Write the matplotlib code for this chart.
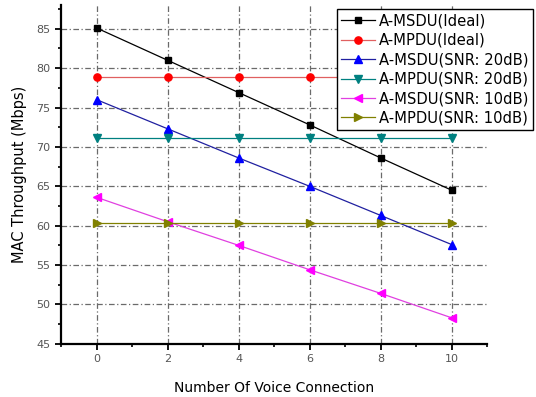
import matplotlib
matplotlib.use('Agg')
import matplotlib.pyplot as plt
from matplotlib.ticker import MultipleLocator

plt.rcParams['font.family'] = ['DejaVu Sans']

# data
voice = [0, 2, 4, 6, 8, 10]
msdu_ideal = [85.1, 81.0, 76.9, 72.8, 68.6, 64.5]
mpdu_ideal = [78.9, 78.9, 78.9, 78.9, 78.9, 78.9]
msdu_20 = [76.0, 72.3, 68.6, 65.0, 61.3, 57.6]
mpdu_20 = [71.1, 71.1, 71.1, 71.1, 71.1, 71.1]
msdu_10 = [63.6, 60.5, 57.5, 54.4, 51.4, 48.3]
mpdu_10 = [60.3, 60.3, 60.3, 60.3, 60.3, 60.3]

labels = ['A-MSDU(Ideal)', 'A-MPDU(Ideal)', 'A-MSDU(SNR: 20dB)',
          'A-MPDU(SNR: 20dB)', 'A-MSDU(SNR: 10dB)', 'A-MPDU(SNR: 10dB)']

fig = plt.figure(figsize=(5.36, 3.97), dpi=100)
ax = fig.add_axes([0.114, 0.134, 0.795, 0.853])

series = [msdu_ideal, mpdu_ideal, msdu_20, mpdu_20, msdu_10, mpdu_10]
markers = ['s', 'o', '^', 'v', '<', '>']
msizes = [4.8, 5.2, 6, 6, 6, 6]
mcolors = ['black', 'red', 'blue', '#008080', 'magenta', '#808000']
lcolors = ['black', '#e06060', '#2020a0', '#008080', '#e040e0', '#808000']

for y, m, ms, mc, lc, lab in zip(series, markers, msizes, mcolors, lcolors, labels):
    ax.plot(voice, y, color=lc, lw=0.9, marker=m, ms=ms,
            markerfacecolor=mc, markeredgecolor=mc, label=lab, zorder=3)

ax.set_xlim(-1, 11)
ax.set_ylim(45, 88)
ax.xaxis.set_major_locator(MultipleLocator(2))
ax.xaxis.set_minor_locator(MultipleLocator(1))
ax.yaxis.set_major_locator(MultipleLocator(5))
ax.yaxis.set_minor_locator(MultipleLocator(2.5))

# dash-dot grid, like the original program
ax.grid(True, which='major', color='#6a6a6a', lw=0.9, linestyle=(0, (4.5, 2, 1, 2)))

for s in ['top', 'right']:
    ax.spines[s].set_visible(False)
for s in ['left', 'bottom']:
    ax.spines[s].set_linewidth(1.6)

ax.tick_params(which='major', direction='out', length=4, width=1.3,
               labelsize=8, labelcolor='#555555')
ax.tick_params(which='minor', direction='out', length=2.5, width=1.2)

ax.set_xlabel('Number Of Voice Connection', fontsize=10, labelpad=12)
ax.set_ylabel('MAC Throughput (Mbps)', fontsize=10.5, labelpad=7)

leg = ax.legend(loc='upper left', bbox_to_anchor=(0.628, 0.977),
                bbox_transform=fig.transFigure, fontsize=10.6,
                frameon=True, fancybox=False, borderpad=0.3,
                labelspacing=0.3, handlelength=2.3, handletextpad=0.3,
                borderaxespad=0)
leg.get_frame().set_edgecolor('black')
leg.get_frame().set_linewidth(1.0)
leg.get_frame().set_alpha(1)

fig.savefig('out.png', dpi=100)
